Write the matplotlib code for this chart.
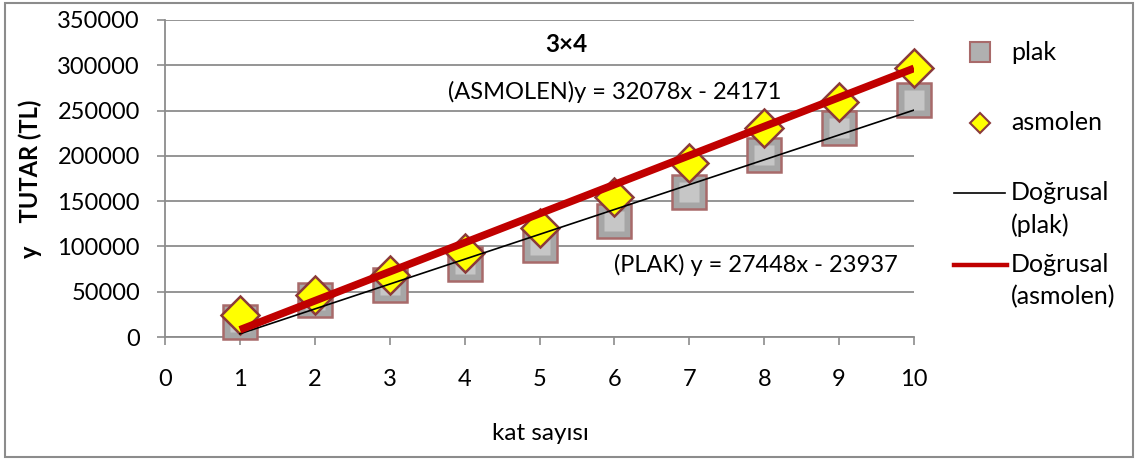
import numpy as np
import matplotlib
matplotlib.use("Agg")
import matplotlib.pyplot as plt
from matplotlib.lines import Line2D
from matplotlib.patches import Rectangle

plt.rcParams["font.family"] = ["Lato", "DejaVu Sans"]

# kat sayısı
kat = [1, 2, 3, 4, 5, 6, 7, 8, 9, 10]
# values (TL)
plak = [17000, 41000, 57000, 81000, 102000, 128000, 160000, 201000, 231000, 262000]
asmolen = [24000, 46000, 68000, 93000, 120000, 155000, 192000, 231000, 260000, 297000]
# trendline coefficients printed on the chart (slope, intercept)
plak_fit = (27448, -23937)
asmolen_fit = (32078, -24171)

yticks = [0, 50000, 100000, 150000, 200000, 250000, 300000, 350000]
xticks = [0, 1, 2, 3, 4, 5, 6, 7, 8, 9, 10]

W, H = 1146, 461
fig = plt.figure(figsize=(W / 100, H / 100), dpi=100)
ax = fig.add_axes([165 / W, 1 - 337 / H, (914 - 165) / W, (337 - 20) / H])

grid_c = "#8c8c8c"
ax.set_xlim(0, 10)
ax.set_ylim(0, 350000)
ax.set_yticks(yticks)
ax.set_xticks(xticks)
ax.yaxis.grid(True, color=grid_c, lw=1.3)
ax.set_axisbelow(True)
for s in ["top", "right"]:
    ax.spines[s].set_visible(False)
for s in ["left", "bottom"]:
    ax.spines[s].set_color(grid_c)
    ax.spines[s].set_linewidth(1.3)
ax.tick_params(axis="y", length=6, width=1.2, color=grid_c, pad=12, labelsize=17)
ax.tick_params(axis="x", length=6, width=1.2, color=grid_c, pad=17, labelsize=17)

# markers
ax.plot(kat, plak, ls="none", marker="s", ms=25, mfc="#a6a6a6", mec="#a86a6a",
        mew=1.8, zorder=3, clip_on=False)
ax.plot(kat, plak, ls="none", marker="s", ms=15, mfc="#c6c6c6", mec="none",
        zorder=3, clip_on=False)
ax.plot(kat, asmolen, ls="none", marker="D", ms=19, mfc="#ffff00", mec="#8b3a3a",
        mew=1.8, zorder=4, clip_on=False)

# trendlines
xs = np.array([kat[0], kat[-1]])
ax.plot(xs, plak_fit[0] * xs + plak_fit[1], color="black", lw=1.2, zorder=5)
ax.plot(xs, asmolen_fit[0] * xs + asmolen_fit[1], color="#c00000", lw=5.5,
        solid_capstyle="butt", zorder=6)

# texts
fig.text(566 / W, 1 - 45 / H, "3×4", ha="center", va="center", fontsize=17.5, fontweight="bold")
fig.text(448 / W, 1 - 92 / H, f"(ASMOLEN)y = {asmolen_fit[0]}x - {-asmolen_fit[1]}",
         ha="left", va="center", fontsize=17)
fig.text(614 / W, 1 - 265 / H, f"(PLAK) y = {plak_fit[0]}x - {-plak_fit[1]}",
         ha="left", va="center", fontsize=17)
fig.text(540 / W, 1 - 433 / H, "kat sayısı", ha="center", va="center", fontsize=17.5)
fig.text(30 / W, 1 - 179 / H, "y    TUTAR (TL)", ha="center", va="center",
         rotation=90, fontsize=17, fontweight="bold")

# legend drawn by hand
def fx(px):
    return px / W

def fy(py):
    return 1 - py / H

fig.add_artist(Line2D([fx(980)], [fy(52)], marker="s", ms=14, mfc="#b0b0b0",
                      mec="#a86a6a", mew=1.5, transform=fig.transFigure))
fig.add_artist(Line2D([fx(980)], [fy(123)], marker="D", ms=10, mfc="#ffff00",
                      mec="#8b3a3a", mew=1.5, transform=fig.transFigure))
fig.add_artist(Line2D([fx(954), fx(1005)], [fy(193), fy(193)], color="black",
                      lw=1.2, transform=fig.transFigure))
fig.add_artist(Line2D([fx(954), fx(1007)], [fy(265), fy(265)], color="#c00000",
                      lw=3.2, transform=fig.transFigure))
leg_fs = 18
fig.text(fx(1011), fy(52), "plak", va="center", fontsize=leg_fs)
fig.text(fx(1011), fy(123), "asmolen", va="center", fontsize=leg_fs)
fig.text(fx(1011), fy(193), "Doğrusal", va="center", fontsize=leg_fs)
fig.text(fx(1011), fy(225), "(plak)", va="center", fontsize=leg_fs)
fig.text(fx(1011), fy(265), "Doğrusal", va="center", fontsize=leg_fs)
fig.text(fx(1011), fy(297), "(asmolen)", va="center", fontsize=leg_fs)

# chart border
fig.add_artist(Rectangle((fx(5), fy(457)), fx(1133) - fx(5), fy(3) - fy(457),
                         fill=False, ec="#8c8c8c", lw=1.5, transform=fig.transFigure))

fig.savefig("out.png", dpi=100)
